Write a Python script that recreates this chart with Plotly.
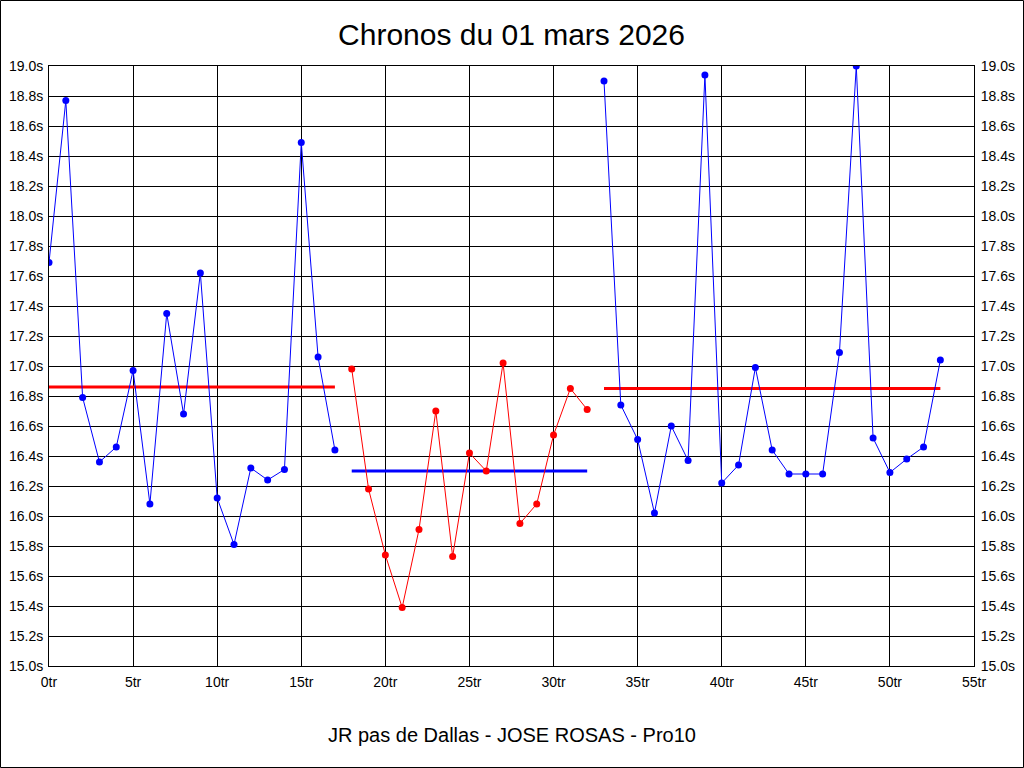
import plotly.graph_objects as go

# Segment 1 (blue)
laps_1 = list(range(0, 18))
times_1 = [17.69, 18.77, 16.79, 16.36, 16.46, 16.97, 16.08, 17.35, 16.68, 17.62,
           16.12, 15.81, 16.32, 16.24, 16.31, 18.49, 17.06, 16.44]
# Segment 2 (red)
laps_2 = list(range(18, 33))
times_2 = [16.98, 16.18, 15.74, 15.39, 15.91, 16.70, 15.73, 16.42, 16.30, 17.02,
           15.95, 16.08, 16.54, 16.85, 16.71]
# Segment 3 (blue)
laps_3 = list(range(33, 54))
times_3 = [18.90, 16.74, 16.51, 16.02, 16.60, 16.37, 18.94, 16.22, 16.34, 16.99,
           16.44, 16.28, 16.28, 16.28, 17.09, 19.00, 16.52, 16.29, 16.38, 16.46, 17.04]

# Averages per segment
avg_1 = 16.86
avg_2 = 16.30
avg_3 = 16.85

y_tickvals = [15.0, 15.2, 15.4, 15.6, 15.8, 16.0, 16.2, 16.4, 16.6, 16.8,
              17.0, 17.2, 17.4, 17.6, 17.8, 18.0, 18.2, 18.4, 18.6, 18.8, 19.0]
y_ticktext = [f"{v:.1f}s" for v in y_tickvals]
x_tickvals = [0, 5, 10, 15, 20, 25, 30, 35, 40, 45, 50, 55]
x_ticktext = [f"{v}tr" for v in x_tickvals]

title_text = "Chronos du 01 mars 2026"
subtitle_text = "JR pas de Dallas - JOSE ROSAS - Pro10"

BLUE = "#0000FF"
RED = "#FF0000"
FONT = "Liberation Sans, Arial, sans-serif"

fig = go.Figure()

# average lines
fig.add_trace(go.Scatter(x=[laps_1[0], laps_1[-1]], y=[avg_1, avg_1], mode="lines",
                         line=dict(color=RED, width=3), hoverinfo="skip"))
fig.add_trace(go.Scatter(x=[laps_2[0], laps_2[-1]], y=[avg_2, avg_2], mode="lines",
                         line=dict(color=BLUE, width=3), hoverinfo="skip"))
fig.add_trace(go.Scatter(x=[laps_3[0], laps_3[-1]], y=[avg_3, avg_3], mode="lines",
                         line=dict(color=RED, width=3), hoverinfo="skip"))

# lap series
fig.add_trace(go.Scatter(x=laps_1, y=times_1, mode="lines+markers",
                         line=dict(color=BLUE, width=1), marker=dict(color=BLUE, size=7)))
fig.add_trace(go.Scatter(x=laps_2, y=times_2, mode="lines+markers",
                         line=dict(color=RED, width=1), marker=dict(color=RED, size=7)))
fig.add_trace(go.Scatter(x=laps_3, y=times_3, mode="lines+markers",
                         line=dict(color=BLUE, width=1), marker=dict(color=BLUE, size=7)))

# invisible trace for right axis
fig.add_trace(go.Scatter(x=[0], y=[15.0], yaxis="y2", mode="markers",
                         marker=dict(opacity=0), hoverinfo="skip"))

W, H = 1024, 768
L, R, T, B = 49, 50, 66, 102
pw, ph = W - L - R, H - T - B

fig.update_layout(
    width=W, height=H,
    margin=dict(l=L, r=R, t=T, b=B, autoexpand=False),
    paper_bgcolor="white", plot_bgcolor="white",
    showlegend=False,
    font=dict(family=FONT, size=14, color="black"),
    title=dict(text=title_text, x=0.5, xanchor="center", xref="paper",
               y=1 - 34 / H, yref="container", yanchor="middle",
               font=dict(family=FONT, size=30, color="black")),
    xaxis=dict(range=[0, 55], tickvals=x_tickvals, ticktext=x_ticktext,
               showgrid=True, gridcolor="black", gridwidth=1,
               showline=True, linecolor="black", linewidth=1, mirror=True,
               zeroline=False, ticks="outside", ticklen=3, tickcolor="white",
               tickfont=dict(size=14, color="black")),
    yaxis=dict(range=[15.0, 19.0], tickvals=y_tickvals, ticktext=y_ticktext,
               showgrid=True, gridcolor="black", gridwidth=1,
               showline=True, linecolor="black", linewidth=1, mirror=True,
               zeroline=False, ticks="outside", ticklen=2, tickcolor="white",
               tickfont=dict(size=14, color="black")),
    yaxis2=dict(range=[15.0, 19.0], tickvals=y_tickvals, ticktext=y_ticktext,
                overlaying="y", side="right", showgrid=False, zeroline=False,
                ticks="outside", ticklen=3, tickcolor="white",
                tickfont=dict(size=14, color="black")),
    annotations=[dict(text=subtitle_text, x=0.5, xref="paper",
                      y=(T + ph - 735) / ph, yref="paper", yanchor="middle",
                      showarrow=False, font=dict(family=FONT, size=20, color="black"))],
    shapes=[dict(type="rect", xref="paper", yref="paper",
                 x0=(0.5 - L) / pw, x1=(W - 0.5 - L) / pw,
                 y0=(T + ph - (H - 0.5)) / ph, y1=(T + ph - 0.5) / ph,
                 line=dict(color="black", width=1), fillcolor="rgba(0,0,0,0)",
                 layer="above")],
)

fig.write_html("out.html",
               config={"displayModeBar": False},
               post_script="document.body.style.margin='0';document.body.style.overflow='hidden';")
